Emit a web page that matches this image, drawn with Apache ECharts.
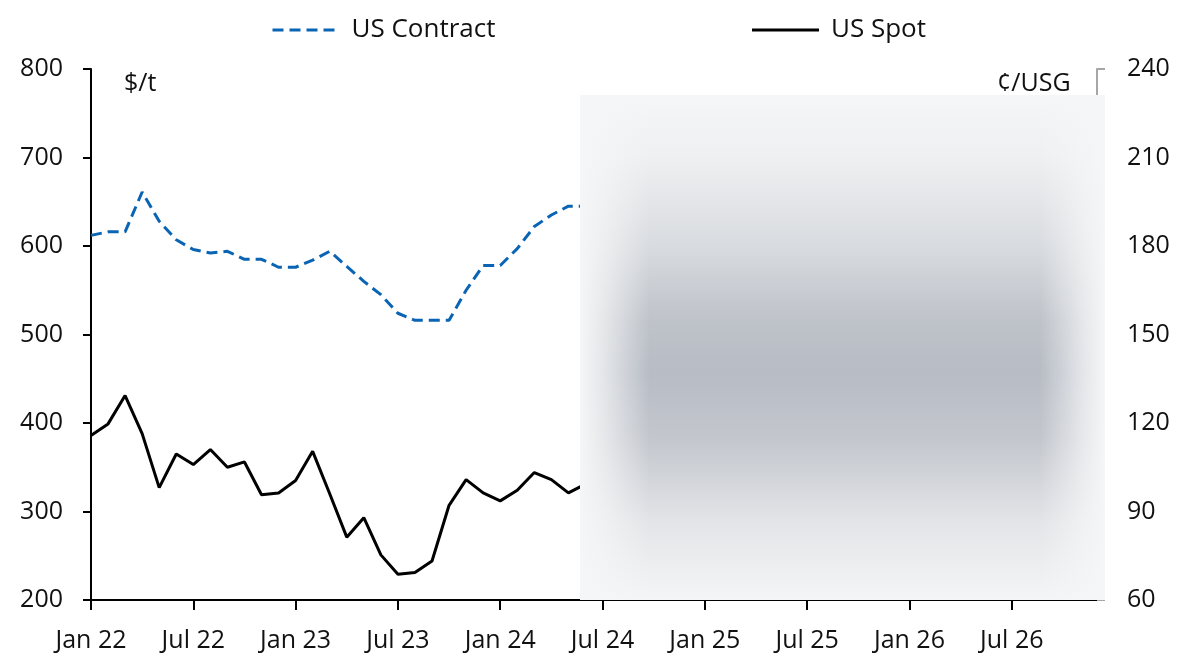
<!DOCTYPE html>
<html><head><meta charset="utf-8">
<script src="https://cdn.jsdelivr.net/npm/echarts@6/dist/echarts.min.js"></script>
<style>html,body{margin:0;padding:0;background:#fff}#c{width:1196px;height:654px}</style>
</head><body><div id="c"></div>
<script>
// Monthly categories Jan 22 .. Dec 26
const monthNames = ['Jan','Feb','Mar','Apr','May','Jun','Jul','Aug','Sep','Oct','Nov','Dec'];
const years = ['22','23','24','25','26'];
const categories = [];
years.forEach(y => monthNames.forEach(m => categories.push(m + ' ' + y)));

// US Contract ($/t), Jan 22 onwards (rest hidden)
const usContract = [612, 616, 616, 661, 628, 607, 596, 592, 594, 585, 585, 576, 576, 584, 594, 577, 560, 545, 524, 516, 516, 516, 550, 578, 578, 597, 622, 635, 645, 645];
// US Spot ($/t)
const usSpot = [386, 399, 431, 388, 327, 365, 353, 370, 350, 356, 319, 321, 335, 368, 320, 271, 293, 251, 229, 231, 244, 307, 336, 321, 312, 324, 344, 336, 321, 331];

const leftTicks = {min: 200, max: 800, interval: 100};
const rightTicks = {min: 60, max: 240, interval: 30};

const FONT = 'Open Sans';
const chart = echarts.init(document.getElementById('c'), null, {renderer: 'canvas'});
chart.setOption({
  animation: false,
  backgroundColor: '#fff',
  textStyle: {fontFamily: FONT},
  legend: {
    top: 12, left: 266, itemGap: 255, itemWidth: 67, itemHeight: 14,
    itemStyle: {opacity: 0},
    lineStyle: {width: 3},
    textStyle: {fontFamily: FONT, fontSize: 26, color: '#111', padding: [0, 0, 0, 7]},
    data: ['US Contract', 'US Spot']
  },
  grid: {left: 91, right: 99, top: 69, bottom: 54, containLabel: false},
  xAxis: {
    type: 'category', data: categories, boundaryGap: false,
    axisLine: {lineStyle: {color: '#000', width: 2}},
    axisTick: {show: true, interval: 5, length: 10, lineStyle: {color: '#000', width: 2}},
    axisLabel: {interval: 5, fontFamily: FONT, fontSize: 25, color: '#111', margin: 28},
    splitLine: {show: false}
  },
  yAxis: [{
    type: 'value', position: 'left', min: leftTicks.min, max: leftTicks.max, interval: leftTicks.interval,
    axisLine: {show: true, lineStyle: {color: '#000', width: 2}},
    axisTick: {show: true, length: 8, lineStyle: {color: '#000', width: 2}},
    axisLabel: {fontFamily: FONT, fontSize: 25, color: '#111', margin: 28},
    splitLine: {show: false}
  }, {
    type: 'value', position: 'right', min: rightTicks.min, max: rightTicks.max, interval: rightTicks.interval,
    axisLine: {show: true, lineStyle: {color: '#a6a6a6', width: 2}},
    axisTick: {show: true, length: 8, lineStyle: {color: '#a6a6a6', width: 2}},
    axisLabel: {fontFamily: FONT, fontSize: 25, color: '#111', margin: 30},
    splitLine: {show: false}
  }],
  series: [{
    name: 'US Contract', type: 'line', data: usContract, yAxisIndex: 0,
    symbol: 'none', smooth: false,
    lineStyle: {color: '#0a64b4', width: 3, type: [11, 6]},
    itemStyle: {color: '#0a64b4'}
  }, {
    name: 'US Spot', type: 'line', data: usSpot, yAxisIndex: 0,
    symbol: 'none',
    lineStyle: {color: '#000', width: 3},
    itemStyle: {color: '#000'}
  }],
  graphic: [
    {type: 'text', left: 124, top: 71, z: 10, style: {text: '$/t', fontFamily: FONT, fontSize: 25, fill: '#111'}},
    {type: 'text', left: 997, top: 71, z: 10, style: {text: '¢/USG', fontFamily: FONT, fontSize: 25, fill: '#111'}},
    {type: 'rect', z: 100, shape: {x: 580, y: 95, width: 525, height: 505},
      style: {fill: new echarts.graphic.LinearGradient(0, 0, 0, 1, [
        {offset: 0, color: '#f5f6f7'},
        {offset: 0.12, color: '#eff0f2'},
        {offset: 0.3, color: '#d8dbdf'},
        {offset: 0.45, color: '#bec2c9'},
        {offset: 0.55, color: '#b7bcc5'},
        {offset: 0.68, color: '#c3c6cd'},
        {offset: 0.85, color: '#e3e5e8'},
        {offset: 1, color: '#f4f5f6'}
      ])}},
    {type: 'rect', z: 101, shape: {x: 580, y: 95, width: 70, height: 505},
      style: {fill: new echarts.graphic.LinearGradient(0, 0, 1, 0, [
        {offset: 0, color: 'rgba(245,246,247,1)'},
        {offset: 0.35, color: 'rgba(245,246,247,0.7)'},
        {offset: 1, color: 'rgba(245,246,247,0)'}
      ])}},
    {type: 'rect', z: 101, shape: {x: 1040, y: 95, width: 65, height: 505},
      style: {fill: new echarts.graphic.LinearGradient(0, 0, 1, 0, [
        {offset: 0, color: 'rgba(245,246,247,0)'},
        {offset: 0.65, color: 'rgba(245,246,247,0.7)'},
        {offset: 1, color: 'rgba(245,246,247,1)'}
      ])}}
  ]
});
</script></body></html>
